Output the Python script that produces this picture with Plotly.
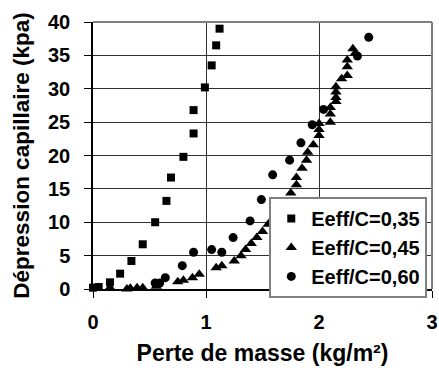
import plotly.graph_objects as go

# Eeff/C = 0,35
x_035 = [0.00, 0.05, 0.15, 0.24, 0.34, 0.44, 0.55, 0.65, 0.69, 0.80, 0.89, 0.89, 0.99, 1.05, 1.09, 1.12]
y_035 = [0.2, 0.3, 1.0, 2.3, 4.2, 6.7, 10.0, 13.2, 16.7, 19.8, 23.3, 26.8, 30.2, 33.5, 36.5, 39.0]

# Eeff/C = 0,45
x_045 = [0.15, 0.30, 0.33, 0.39, 0.44, 0.56, 0.75, 0.80, 0.88, 0.94, 1.09, 1.14, 1.25, 1.31, 1.35,
         1.40, 1.45, 1.50, 1.55, 1.60, 1.65, 1.70, 1.75, 1.80, 1.80, 1.85, 1.89, 1.90, 1.95, 2.00,
         2.00, 2.00, 2.10, 2.10, 2.10, 2.15, 2.15, 2.15, 2.15, 2.20, 2.25, 2.25, 2.25, 2.30, 2.32]
y_045 = [0.2, 0.0, 0.1, 0.2, 0.2, 0.4, 1.1, 1.3, 1.7, 2.2, 3.2, 3.5, 4.2, 5.0, 5.9,
         6.8, 7.7, 8.6, 9.7, 10.8, 12.0, 13.0, 14.4, 15.6, 16.7, 18.1, 19.3, 20.5, 21.6, 23.0,
         23.9, 24.8, 25.0, 26.2, 27.2, 28.1, 28.7, 29.5, 30.3, 31.5, 32.0, 33.3, 34.3, 36.0, 35.3]

# Eeff/C = 0,60
x_060 = [0.55, 0.59, 0.64, 0.79, 0.89, 1.05, 1.14, 1.24, 1.39, 1.49, 1.59, 1.74, 1.84, 1.94, 2.04, 2.34, 2.44]
y_060 = [0.9, 0.9, 1.7, 3.5, 5.5, 5.9, 5.5, 7.7, 10.2, 13.4, 17.1, 19.3, 21.9, 24.6, 26.9, 34.9, 37.7]

x_ticks = [0, 1, 2, 3]
y_ticks = [0, 5, 10, 15, 20, 25, 30, 35, 40]

FONT = "Liberation Sans, Arial, sans-serif"

fig = go.Figure()
fig.add_trace(go.Scatter(x=x_035, y=y_035, mode="markers", name="<b>Eeff/C=0,35</b>",
                         marker=dict(symbol="square", size=8, color="black"), cliponaxis=False))
fig.add_trace(go.Scatter(x=x_045, y=y_045, mode="markers", name="<b>Eeff/C=0,45</b>",
                         marker=dict(symbol="triangle-up", size=10, color="black"), cliponaxis=False))
fig.add_trace(go.Scatter(x=x_060, y=y_060, mode="markers", name="<b>Eeff/C=0,60</b>",
                         marker=dict(symbol="circle", size=9, color="black"), cliponaxis=False))

axis_common = dict(
    showgrid=True, gridcolor="#303030", gridwidth=1,
    showline=True, linecolor="black", linewidth=1.5,
    ticks="outside", ticklen=7, tickcolor="black", tickwidth=1,
    zeroline=False, automargin=False, ticklabeloverflow="allow",
    tickfont=dict(family=FONT, size=20, color="black"),
)

fig.update_xaxes(range=[0, 3], tickvals=x_ticks, ticktext=[f"<b>{v}</b>" for v in x_ticks],
                 ticklabelstandoff=7,
                 title=dict(text="<b>Perte de masse (kg/m²)</b>", standoff=13,
                            font=dict(family=FONT, size=23, color="black")),
                 **axis_common)
fig.update_yaxes(range=[0, 40], tickvals=y_ticks, ticktext=[f"<b>{v}</b>" for v in y_ticks],
                 ticklabelstandoff=10,
                 title=dict(text="<b>Dépression capillaire (kpa)</b>", standoff=12,
                            font=dict(family=FONT, size=22.5, color="black")),
                 **axis_common)

# grey frame on top and right side of the plot area
fig.add_shape(type="line", xref="paper", yref="paper", x0=0, x1=1, y0=1, y1=1,
              line=dict(color="#808080", width=2))
fig.add_shape(type="line", xref="paper", yref="paper", x0=1, x1=1, y0=0, y1=1,
              line=dict(color="#808080", width=2))

fig.update_layout(
    width=439, height=379,
    margin=dict(l=93, r=7, t=22, b=90),
    paper_bgcolor="white", plot_bgcolor="white",
    font=dict(family=FONT, color="black"),
    legend=dict(x=0.52, y=0.345, xanchor="left", yanchor="top",
                bgcolor="white", bordercolor="#808080", borderwidth=2,
                font=dict(family=FONT, size=20, color="black"),
                itemwidth=30, tracegroupgap=0),
    showlegend=True,
)

# drop the default page margin so the figure fills the window exactly
fig.write_html("out.html", config={"displayModeBar": False},
               post_script="document.body.style.margin='0';document.body.style.overflow='hidden';")
